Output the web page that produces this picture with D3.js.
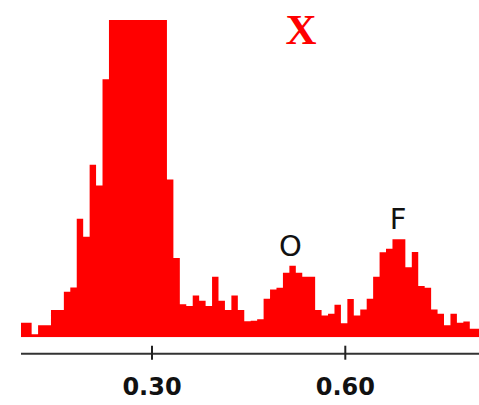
<!DOCTYPE html>
<html>
<head>
<meta charset="utf-8">
<script src="https://cdn.jsdelivr.net/npm/d3@7"></script>
<style>
  body { margin: 0; background: #fff; }
  svg { display: block; }
</style>
</head>
<body>
<div id="wrapper"></div>
<script>
// histogram bins: left edge of first bin, bin width, counts
const binStart = 0.0932
const binWidth = 0.01
const counts = [
  4.6, 4.6, 1.0, 3.8, 3.8, 8.6, 8.6, 14.4, 15.7, 37.4,
  31.7, 54.4, 47.9, 81.4, 120, 150, 175, 185, 180, 165,
  150, 130, 115, 49.8, 25.0, 10.4, 9.9, 13.2, 11.5, 9.9,
  19.1, 11.5, 8.6, 13.2, 8.6, 5.1, 5.2, 5.7, 12.2, 15.1,
  15.6, 20.4, 22.6, 20.4, 19.1, 19.1, 8.6, 6.9, 7.4, 10.3,
  4.4, 12.1, 6.9, 8.8, 12.2, 19.1, 26.8, 27.9, 30.9, 30.9,
  22.1, 26.9, 16.2, 15.6, 8.8, 7.4, 3.8, 7.4, 4.6, 5.0,
  2.7, 2.7
]
const tickValues = [0.30, 0.60]
const peakLabels = [
  { text: "O", value: 0.515, count: 22.6 },
  { text: "F", value: 0.682, count: 30.9 },
]
const title = "X"

const bins = counts.map((c, i) => ({
  x0: binStart + i * binWidth,
  x1: binStart + (i + 1) * binWidth,
  count: c,
}))

const dimensions = {
  width: 479,
  height: 405,
  plotLeft: 21,
  plotRight: 479,
  plotTop: 20,
  baseline: 337.3,
  axisY: 353.7,
}

// 0.30 -> 152, 0.60 -> 345.3
const xScale = d3.scaleLinear()
  .domain([0.30, 0.60])
  .range([152, 345.3])

const yScale = d3.scaleLinear()
  .domain([0, 100])
  .range([dimensions.baseline, dimensions.baseline - 317])

const svg = d3.select("#wrapper")
  .append("svg")
    .attr("width", dimensions.width)
    .attr("height", dimensions.height)

svg.append("clipPath")
    .attr("id", "plot-clip")
  .append("rect")
    .attr("x", dimensions.plotLeft)
    .attr("y", dimensions.plotTop)
    .attr("width", dimensions.plotRight - dimensions.plotLeft)
    .attr("height", dimensions.baseline - dimensions.plotTop)

// step outline of the histogram
const stepPoints = []
bins.forEach(b => {
  stepPoints.push([xScale(b.x0), yScale(b.count)])
  stepPoints.push([xScale(b.x1), yScale(b.count)])
})
const first = bins[0], last = bins[bins.length - 1]
stepPoints.unshift([xScale(first.x0), yScale(0)])
stepPoints.push([xScale(last.x1), yScale(0)])

svg.append("path")
    .attr("clip-path", "url(#plot-clip)")
    .attr("d", d3.line()(stepPoints) + "Z")
    .attr("fill", "#ff0000")
    .attr("stroke", "none")

// x axis
const axis = svg.append("g")
    .attr("transform", `translate(0, ${dimensions.axisY})`)

axis.append("line")
    .attr("x1", dimensions.plotLeft)
    .attr("x2", dimensions.plotRight)
    .attr("stroke", "#333")
    .attr("stroke-width", 2)

axis.selectAll(".tick")
  .data(tickValues)
  .join("line")
    .attr("x1", d => xScale(d))
    .attr("x2", d => xScale(d))
    .attr("y1", -8)
    .attr("y2", 6)
    .attr("stroke", "#222")
    .attr("stroke-width", 2)

axis.selectAll(".tick-label")
  .data(tickValues)
  .join("text")
    .attr("x", d => xScale(d))
    .attr("y", 41)
    .attr("text-anchor", "middle")
    .style("font-family", "'DejaVu Sans', sans-serif")
    .style("font-weight", "bold")
    .style("font-size", "24px")
    .attr("fill", "#111")
    .text(d => d3.format(".2f")(d))

// peak labels
svg.selectAll(".peak-label")
  .data(peakLabels)
  .join("text")
    .attr("x", d => xScale(d.value))
    .attr("y", d => yScale(d.count) - 10)
    .attr("text-anchor", "middle")
    .style("font-family", "'DejaVu Sans', sans-serif")
    .style("font-size", "29px")
    .attr("fill", "#111")
    .text(d => d.text)

// title
svg.append("text")
    .attr("x", 301)
    .attr("y", 44)
    .attr("text-anchor", "middle")
    .style("font-family", "'Liberation Serif', serif")
    .style("font-weight", "bold")
    .style("font-size", "43px")
    .attr("fill", "#ff0000")
    .text(title)
</script>
</body>
</html>
